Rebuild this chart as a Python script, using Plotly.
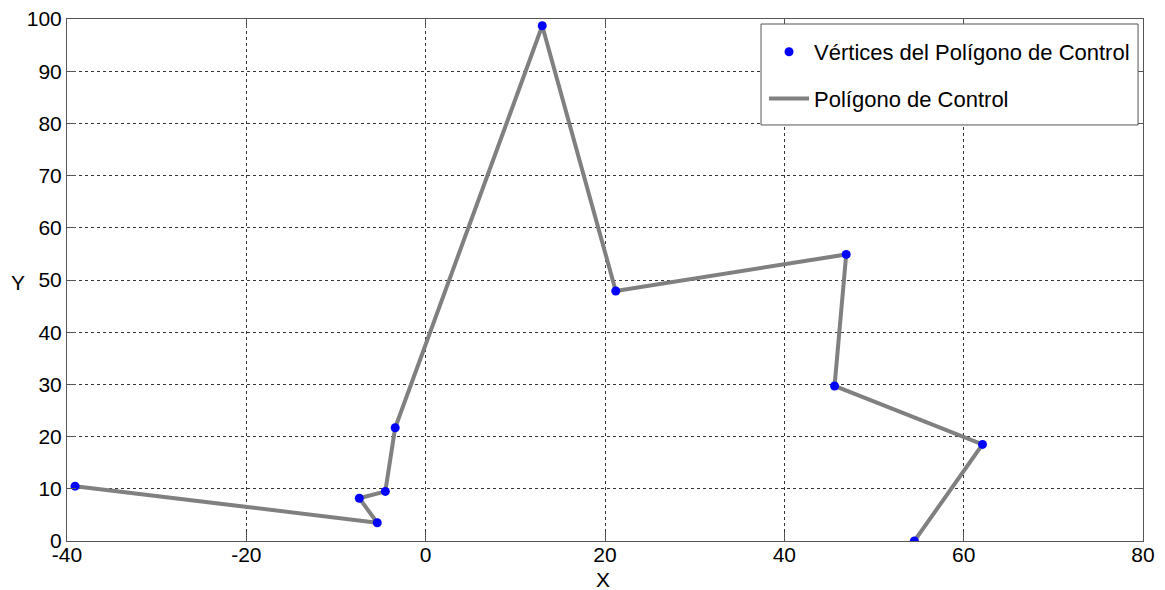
import plotly.graph_objects as go

# Control polygon vertices
x_vals = [-39.1, -5.4, -7.4, -4.5, -3.4, 13.0, 21.2, 46.9, 45.6, 62.1, 54.5]
y_vals = [10.5, 3.5, 8.2, 9.5, 21.7, 98.7, 47.9, 54.9, 29.7, 18.5, 0.0]

x_ticks = [-40, -20, 0, 20, 40, 60, 80]
y_ticks = [0, 10, 20, 30, 40, 50, 60, 70, 80, 90, 100]

name_pts = "Vértices del Polígono de Control"
name_line = "Polígono de Control"
x_title = "X"
y_title = "Y"

font_family = "Liberation Sans, Arial, sans-serif"

fig = go.Figure()

fig.add_trace(go.Scatter(
    x=x_vals, y=y_vals, mode="lines", name=name_line,
    line=dict(color="#808080", width=4),
    legendgroup="b", legendrank=2,
))
fig.add_trace(go.Scatter(
    x=x_vals, y=y_vals, mode="markers", name=name_pts,
    marker=dict(color="#0000FF", size=9),
    legendgroup="a", legendrank=1,
))

axis_common = dict(
    showline=True, linecolor="#555555", linewidth=1, mirror="ticks",
    ticks="inside", ticklen=9, tickcolor="#555555", tickwidth=1,
    showgrid=True, gridcolor="#333333", gridwidth=1, griddash="3px,3px",
    zeroline=False, ticklabeloverflow="allow",
    tickfont=dict(family=font_family, size=21, color="#000000"),
)

fig.update_xaxes(
    range=[-40, 80], tickvals=x_ticks, ticktext=[str(v) for v in x_ticks],
    ticklabelstandoff=-5, **axis_common,
)
fig.update_yaxes(
    range=[0, 100], tickvals=y_ticks, ticktext=[str(v) for v in y_ticks],
    **axis_common,
)

# legend frame (white box covering the grid, as in the reference)
fig.add_shape(
    type="rect", xref="paper", yref="paper",
    x0=0.645, x1=0.9954, y0=0.797, y1=0.9904,
    fillcolor="white", line=dict(color="#555555", width=1), layer="above",
)

# axis titles (Y horizontal, as in the reference)
fig.add_annotation(
    text=x_title, xref="paper", yref="paper", x=0.498, y=-0.0747,
    xanchor="center", yanchor="middle", showarrow=False,
    font=dict(family=font_family, size=21, color="#000000"),
)
fig.add_annotation(
    text=y_title, xref="paper", yref="paper", x=-0.0455, y=0.496,
    xanchor="center", yanchor="middle", showarrow=False,
    font=dict(family=font_family, size=21, color="#000000"),
)

fig.update_layout(
    width=1157, height=582,
    margin=dict(l=59, r=22, t=11, b=49, autoexpand=False),
    paper_bgcolor="white", plot_bgcolor="white",
    font=dict(family=font_family, size=21, color="#000000"),
    legend=dict(
        x=0.6478, y=0.977, xanchor="left", yanchor="top",
        bgcolor="rgba(0,0,0,0)", borderwidth=0,
        font=dict(family=font_family, size=22, color="#000000"),
        traceorder="grouped", tracegroupgap=15, itemwidth=40,
    ),
    showlegend=True,
)

fig.write_html("out.html")
